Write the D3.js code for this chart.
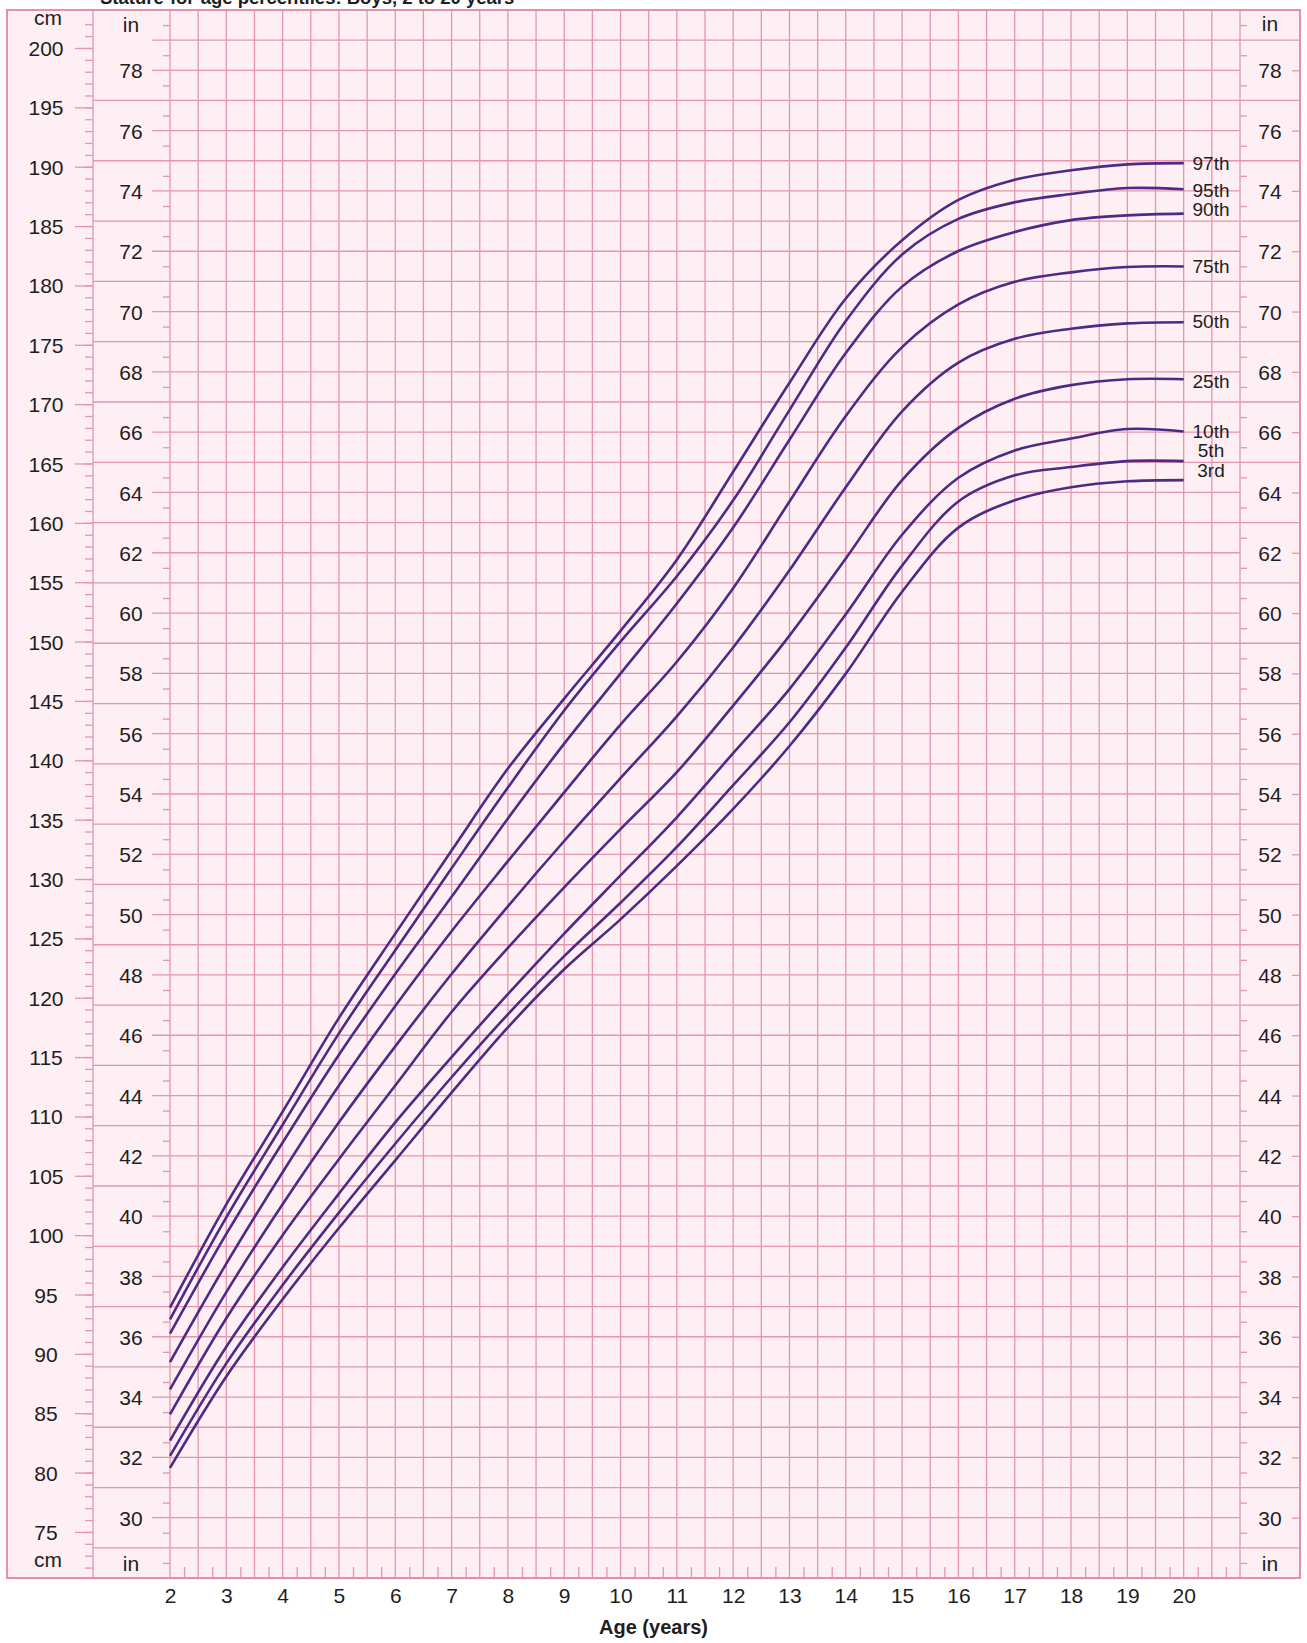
<!DOCTYPE html>
<html><head><meta charset="utf-8">
<script src="https://cdn.jsdelivr.net/npm/d3@7"></script>
<style>
body{margin:0;background:#fff;}
svg{display:block;font-family:"Liberation Sans",Arial,Helvetica,sans-serif;}
</style></head><body>
<svg id="chart" width="1307" height="1643"></svg>
<script>
// ---------------- DATA ----------------
const ages = [2,3,4,5,6,7,8,9,10,11,12,13,14,15,16,17,18,19,20];
const p97 = [93.9,102.6,110.4,118.3,125.4,132.4,139.3,145.2,150.9,156.9,164.3,171.8,178.9,183.8,187.2,188.9,189.7,190.2,190.3];
const p95 = [92.9,101.5,109.3,117.0,124.0,130.9,137.7,144.2,150.0,155.5,161.9,169.5,177.0,182.6,185.6,187.0,187.7,188.2,188.1];
const p90 = [91.7,100.1,107.8,115.2,122.0,128.5,135.1,141.4,147.3,153.2,159.6,167.0,174.3,179.9,182.9,184.5,185.5,185.9,186.05];
const p75 = [89.3,97.6,105.3,112.6,119.3,125.6,131.5,137.3,143.0,148.3,154.5,161.8,169.0,174.8,178.4,180.3,181.1,181.55,181.6];
const p50 = [87.0,95.2,102.6,109.5,115.9,122.0,127.7,133.2,138.5,143.7,149.5,156.0,163.0,169.4,173.5,175.5,176.35,176.8,176.9];
const p25 = [84.9,93.0,100.0,106.4,112.6,118.8,124.2,129.3,134.2,139.0,144.6,150.5,157.0,163.6,168.0,170.45,171.6,172.1,172.1];
const p10 = [82.7,90.6,97.3,103.5,109.5,115.0,120.3,125.4,130.3,135.2,140.6,146.0,152.3,159.0,163.8,166.1,167.1,167.9,167.7];
const p5  = [81.4,89.2,95.8,101.9,107.7,113.3,118.6,123.5,128.0,132.7,137.9,143.2,149.5,156.4,161.8,164.0,164.7,165.2,165.2];
const p3  = [80.4,88.1,94.6,100.6,106.3,112.0,117.5,122.4,126.6,131.1,135.9,141.2,147.3,154.2,159.6,161.9,163.0,163.5,163.6];
const seriesNames = ["97th","95th","90th","75th","50th","25th","10th","5th","3rd"];
const seriesValues = [p97,p95,p90,p75,p50,p25,p10,p5,p3];
const cmLabels = [75,80,85,90,95,100,105,110,115,120,125,130,135,140,145,150,155,160,165,170,175,180,185,190,195,200];
const inchLabels = [30,32,34,36,38,40,42,44,46,48,50,52,54,56,58,60,62,64,66,68,70,72,74,76,78];
const ageLabels = [2,3,4,5,6,7,8,9,10,11,12,13,14,15,16,17,18,19,20];

// ---------------- LAYOUT ----------------
const FR = {l:7, r:1300, t:10, b:1578};
const DIV = 93, PL = 170, PR = 1240;
const labelNudge = [0,1,-4,0,-1,2,0,-11,-10];
const GRID = "#e795ad", FRAME = "#e58fa8", BG = "#fdeff4", LINE = "#4c2b86", TXT = "#1e1e1e";

const svg = d3.select("#chart");
const x = d3.scaleLinear().domain([2,21]).range([PL,PR]);
const yIn = d3.scaleLinear().domain([28,80]).range([FR.b,FR.t]);
const yCm = d3.scaleLinear().domain([28*2.54,80*2.54]).range([FR.b,FR.t]);

// cut-off title at very top
svg.append("text").attr("x",100).attr("y",4).attr("font-size",18.5).attr("font-weight","bold")
  .attr("fill",TXT).text("Stature-for-age percentiles: Boys, 2 to 20 years");

svg.append("rect").attr("x",FR.l).attr("y",FR.t).attr("width",FR.r-FR.l).attr("height",FR.b-FR.t)
  .attr("fill",BG);

const g = svg.append("g");
g.selectAll("line.v").data(d3.range(2,21.001,0.5)).join("line")
  .attr("x1",d=>x(d)).attr("x2",d=>x(d)).attr("y1",FR.t).attr("y2",FR.b)
  .attr("stroke",GRID).attr("stroke-width",1.3);
g.selectAll("line.h").data(d3.range(29,80)).join("line")
  .attr("x1",d=> d%2===1 ? (d===79?152:DIV) : 152)
  .attr("x2",d=> d%2===1 ? FR.r : PR)
  .attr("y1",d=>yIn(d)).attr("y2",d=>yIn(d))
  .attr("stroke",GRID).attr("stroke-width",1.3);
g.append("line").attr("x1",DIV).attr("x2",DIV).attr("y1",FR.t).attr("y2",FR.b).attr("stroke",GRID).attr("stroke-width",1.3);

function styleAxis(sel){
  sel.select(".domain").remove();
  sel.selectAll(".tick line").attr("stroke",GRID).attr("stroke-width",1.3);
  sel.selectAll(".tick text").attr("fill",TXT).attr("font-size",21)
    .attr("font-family",'"Liberation Sans",Arial,sans-serif');
}
svg.append("g").attr("transform",`translate(${DIV},0)`)
  .call(d3.axisLeft(yCm).tickValues(d3.range(72,203)).tickSize(8).tickFormat(""))
  .call(styleAxis);
svg.append("g").attr("transform",`translate(${DIV},0)`)
  .call(d3.axisLeft(yCm).tickValues(cmLabels).tickSize(18).tickFormat(d3.format("d")))
  .call(styleAxis)
  .call(s=>s.selectAll(".tick text").attr("text-anchor","middle").attr("x",-47).attr("dy","0.36em"));
svg.append("g").attr("transform",`translate(${PL},0)`)
  .call(d3.axisLeft(yIn).tickValues(d3.range(28.5,80,1)).tickSize(7).tickFormat(""))
  .call(styleAxis);
svg.append("g").attr("transform",`translate(${PL},0)`)
  .call(d3.axisLeft(yIn).tickValues(inchLabels).tickSize(0).tickFormat(d3.format("d")))
  .call(styleAxis)
  .call(s=>s.selectAll(".tick text").attr("text-anchor","middle").attr("x",-39).attr("dy","0.36em"));
svg.append("g").attr("transform",`translate(${PR},0)`)
  .call(d3.axisRight(yIn).tickValues(d3.range(28.5,80,1)).tickSize(7).tickFormat(""))
  .call(styleAxis);
svg.append("g").attr("transform",`translate(${FR.r},0)`)
  .call(d3.axisLeft(yIn).tickValues(inchLabels).tickSize(8).tickFormat(d3.format("d")))
  .call(styleAxis)
  .call(s=>s.selectAll(".tick text").attr("text-anchor","middle").attr("x",-30).attr("dy","0.36em"));
svg.append("g").attr("transform",`translate(0,${FR.b})`)
  .call(d3.axisTop(x).tickValues(d3.range(2.25,21,0.5)).tickSize(11).tickFormat(""))
  .call(styleAxis);
svg.append("g").attr("transform",`translate(0,${FR.b})`)
  .call(d3.axisBottom(x).tickValues(ageLabels).tickSize(0).tickFormat(d3.format("d")))
  .call(styleAxis)
  .call(s=>s.selectAll(".tick text").attr("y",25).attr("dy",0));

const units = [["cm",48,25],["in",131,32],["cm",48,1567],["in",131,1571],["in",1270,31],["in",1270,1571]];
svg.selectAll("text.unit").data(units).join("text").attr("class","unit")
  .attr("x",d=>d[1]).attr("y",d=>d[2]).attr("text-anchor","middle")
  .attr("font-size",21).attr("fill",TXT).text(d=>d[0]);

svg.append("text").attr("x",(FR.l+FR.r)/2).attr("y",1634).attr("text-anchor","middle")
  .attr("font-size",20).attr("font-weight","bold").attr("fill",TXT).text("Age (years)");

svg.append("rect").attr("x",FR.l).attr("y",FR.t).attr("width",FR.r-FR.l).attr("height",FR.b-FR.t)
  .attr("fill","none").attr("stroke",FRAME).attr("stroke-width",2);

const line = d3.line().x(d=>x(d[0])).y(d=>yCm(d[1])).curve(d3.curveCatmullRom.alpha(0.5));
seriesValues.forEach((vals,i)=>{
  const pts = ages.map((a,j)=>[a,vals[j]]);
  svg.append("path").attr("d",line(pts)).attr("fill","none").attr("stroke",LINE).attr("stroke-width",2.6);
  svg.append("text").attr("x",1211).attr("y",yCm(vals[vals.length-1])+labelNudge[i])
    .attr("dy","0.35em").attr("text-anchor","middle").attr("font-size",19).attr("fill",TXT)
    .text(seriesNames[i]);
});
</script>
</body></html>
